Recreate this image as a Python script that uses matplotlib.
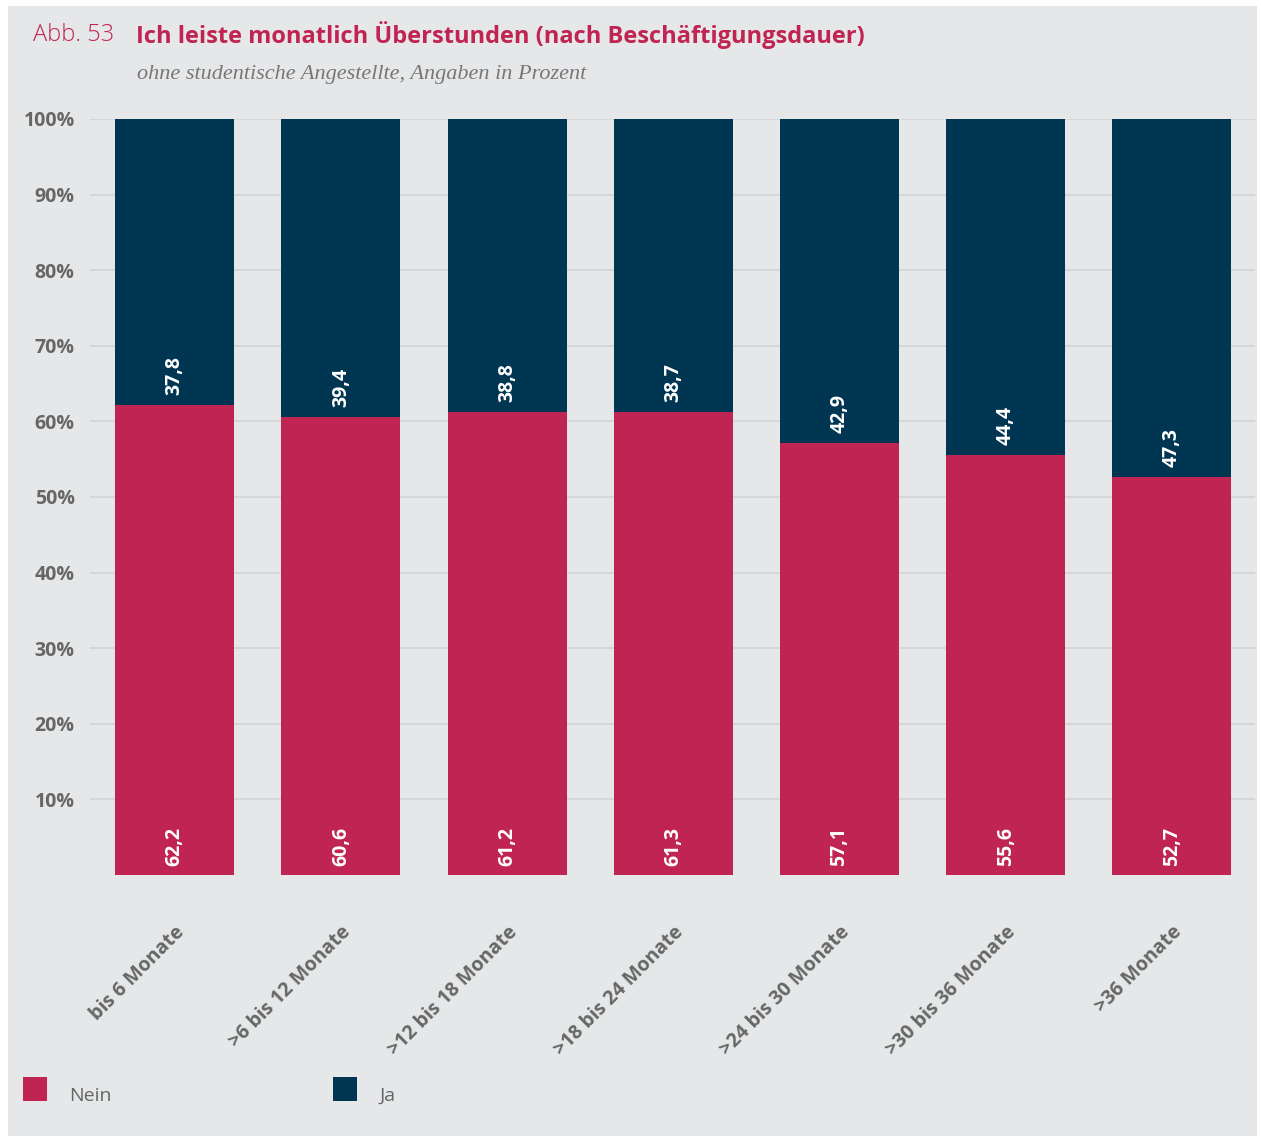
import matplotlib
matplotlib.use("Agg")
import matplotlib.pyplot as plt
from matplotlib.patches import Rectangle

# Daten
categories = ["bis 6 Monate", ">6 bis 12 Monate", ">12 bis 18 Monate", ">18 bis 24 Monate",
              ">24 bis 30 Monate", ">30 bis 36 Monate", ">36 Monate"]
nein = [62.2, 60.6, 61.2, 61.3, 57.1, 55.6, 52.7]
ja = [37.8, 39.4, 38.8, 38.7, 42.9, 44.4, 47.3]
yticks = [10, 20, 30, 40, 50, 60, 70, 80, 90, 100]

red = "#c02453"
navy = "#003652"
bg = "#e6e7e9"
grey_txt = "#666666"
plt.rcParams['font.family'] = ['Open Sans', 'DejaVu Sans']

W, H = 1261, 1136
fig = plt.figure(figsize=(W / 100, H / 100), dpi=100, facecolor="white")

# grauer Hintergrund
fig.patches.append(Rectangle((8 / W, 0), (1257 - 8) / W, (H - 6) / H,
                             transform=fig.transFigure, facecolor=bg, edgecolor="none", zorder=-5))

ax = fig.add_axes([90 / W, (H - 875) / H, 1165 / W, 756 / H])
ax.set_facecolor("none")

x = range(len(categories))
ax.bar(x, nein, width=0.716, color=red, zorder=2)
ax.bar(x, ja, width=0.716, bottom=nein, color=navy, zorder=2)

for i in x:
    ax.text(i, 1.2, f"{nein[i]:.1f}".replace(".", ","), rotation=90, ha="center", va="bottom",
            color="white", fontsize=14, fontweight="bold", zorder=3)
    ax.text(i, nein[i] + 1.3, f"{ja[i]:.1f}".replace(".", ","), rotation=90, ha="center", va="bottom",
            color="white", fontsize=14, fontweight="bold", zorder=3)

ax.set_xlim(-0.51, 6.5)
ax.set_ylim(0, 100)
ax.set_yticks(yticks)
ax.set_yticklabels([f"{v}%" for v in yticks], fontsize=14, fontweight="bold", color=grey_txt)
ax.yaxis.grid(True, color="#d2d3d5", linewidth=1.2, zorder=1)
ax.set_axisbelow(True)
ax.tick_params(axis="y", length=0, pad=11)

ax.set_xticks(list(x))
ax.set_xticklabels(categories, rotation=45, ha="right", rotation_mode="anchor",
                   fontsize=14, fontweight="bold", color=grey_txt)
ax.tick_params(axis="x", length=0, pad=34)

for s in ax.spines.values():
    s.set_visible(False)

# Titel
fig.text(33 / W, 1 - 35 / H, "Abb. 53", fontsize=17, color=red, fontweight="light", va="center")
fig.text(136 / W, 1 - 35 / H, "Ich leiste monatlich Überstunden (nach Beschäftigungsdauer)",
         fontsize=17, color=red, fontweight="bold", va="center")
fig.text(137 / W, 1 - 75 / H, "ohne studentische Angestellte, Angaben in Prozent",
         fontsize=16, color="#777777", style="italic", family="Liberation Serif", va="center")

# Legende
fig.patches.append(Rectangle((23 / W, 1 - 1101 / H), 24 / W, 24 / H, transform=fig.transFigure,
                             facecolor=red, edgecolor="none"))
fig.text(69 / W, 1 - 1096 / H, "Nein", fontsize=14, color=grey_txt, va="center")
fig.patches.append(Rectangle((333 / W, 1 - 1101 / H), 24 / W, 24 / H, transform=fig.transFigure,
                             facecolor=navy, edgecolor="none"))
fig.text(379 / W, 1 - 1096 / H, "Ja", fontsize=14, color=grey_txt, va="center")

fig.savefig("out.png", dpi=100, facecolor=fig.get_facecolor())
